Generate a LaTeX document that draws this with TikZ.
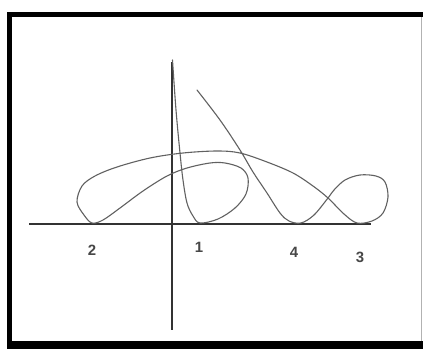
\documentclass[tikz,border=0pt]{standalone}
\usepackage{fontspec}
\setmainfont{Liberation Sans}
\begin{document}
\begin{tikzpicture}[x=1bp,y=-1bp,
  axis/.style={draw=black!80,line width=1.1bp},
  curve/.style={draw=black!62,line width=1.1bp,line join=round,line cap=round},
  lbl/.style={font=\bfseries\fontsize{15}{15}\selectfont,text=black!72,inner sep=0pt}]
\useasboundingbox (0,0) rectangle (423,349);
\fill[white] (0,0) rectangle (423,349);
\fill[black] (7,12) rectangle (423,349);
\fill[white] (12,17) rectangle (423,341);
\draw[black!30,line width=0.6bp] (421.5,17) -- (421.5,341);
% axes
\coordinate (xl) at (29,224);
\coordinate (xr) at (371,224);
\coordinate (yt) at (172,62);
\coordinate (yb) at (172,330);
\draw[axis] (xl) -- (xr);
\draw[axis] (yt) -- (yb);
% curve
\draw[curve] plot[smooth,tension=0.55] coordinates {
 (172.5,60) (176,110) (180,153) (183,180) (187,203) (193,216) (200,223)
 (218,219) (235,208) (246,194) (248,178) (241,168) (225,163) (210,163) (187,168) (167,176) (143,191) (120,208) (103,220) (92,223)
 (84,215) (77,202) (82,186) (95,176) (117,167) (150,158) (183,153) (217,151) (240,153) (267,162) (293,173) (313,186) (328,198)
 (344,214) (357,223)
 (372,221) (383,213) (388,197) (385,182) (376,176) (360,175) (345,180) (334,190) (328,198) (314,215) (301,223)
 (289,221) (280,213) (267,193) (253,172) (240,150) (220,120) (197,90)};
% labels
\node[lbl] (n2) at (92,250) {2};
\node[lbl] (n1) at (199,247) {1};
\node[lbl] (n4) at (294,252) {4};
\node[lbl] (n3) at (360,257) {3};
\end{tikzpicture}
\end{document}
